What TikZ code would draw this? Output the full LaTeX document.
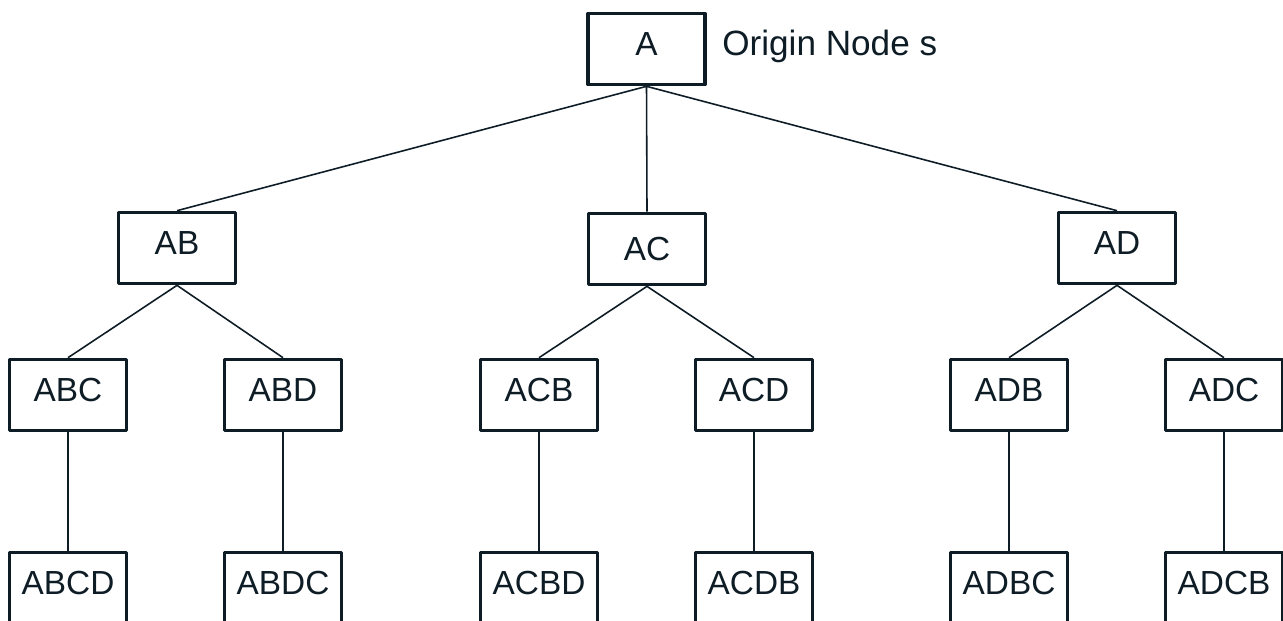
\documentclass[tikz,border=0pt]{standalone}
\usepackage{fontspec}
\setmainfont{Liberation Sans}
\definecolor{ink}{RGB}{14,28,38}
\tikzset{
  box/.style={draw=ink, line width=1.8pt, line join=round, minimum width=2.34cm,
    minimum height=1.43cm, inner sep=0pt, text=ink,
    font=\fontsize{19}{21}\selectfont, text height=0.72em, text depth=0em},
  link/.style={draw=ink, line width=0.9pt},
  note/.style={text=ink, font=\fontsize{20}{22}\selectfont, inner sep=0pt}
}
\begin{document}
\begin{tikzpicture}[x=0.02cm,y=-0.02cm]
\useasboundingbox (0,0) rectangle (1283,620);
\clip (0,0) rectangle (1283,620);
\node[box] (a) at (646.5,49) {A};
\node[note,anchor=base west] (anote) at (722,55) {Origin Node s};
\node[box] (ab) at (177,248) {AB};
\node[box] (ac) at (647,249) {\raisebox{-3pt}{AC}};
\node[box] (ad) at (1117,248) {AD};
\node[box] (abc) at (68,395) {ABC};
\node[box] (abd) at (283,395) {ABD};
\node[box] (acb) at (539,395) {ACB};
\node[box] (acd) at (754,395) {ACD};
\node[box] (adb) at (1009,395) {ADB};
\node[box] (adc) at (1224,395) {ADC};
\node[box] (abcd) at (68,588) {ABCD};
\node[box] (abdc) at (283,588) {ABDC};
\node[box] (acbd) at (539,588) {ACBD};
\node[box] (acdb) at (754,588) {ACDB};
\node[box] (adbc) at (1009,588) {ADBC};
\node[box] (adcb) at (1224,588) {ADCB};
\draw[link] (a.south) -- (ab.north) (a.south) -- (ac.north) (a.south) -- (ad.north);
\draw[link] (ab.south) -- (abc.north) (ab.south) -- (abd.north);
\draw[link] (ac.south) -- (acb.north) (ac.south) -- (acd.north);
\draw[link] (ad.south) -- (adb.north) (ad.south) -- (adc.north);
\foreach \p/\q in {abc/abcd,abd/abdc,acb/acbd,acd/acdb,adb/adbc,adc/adcb}
  \draw[link] (\p.south) -- (\q.north);
\end{tikzpicture}
\end{document}
